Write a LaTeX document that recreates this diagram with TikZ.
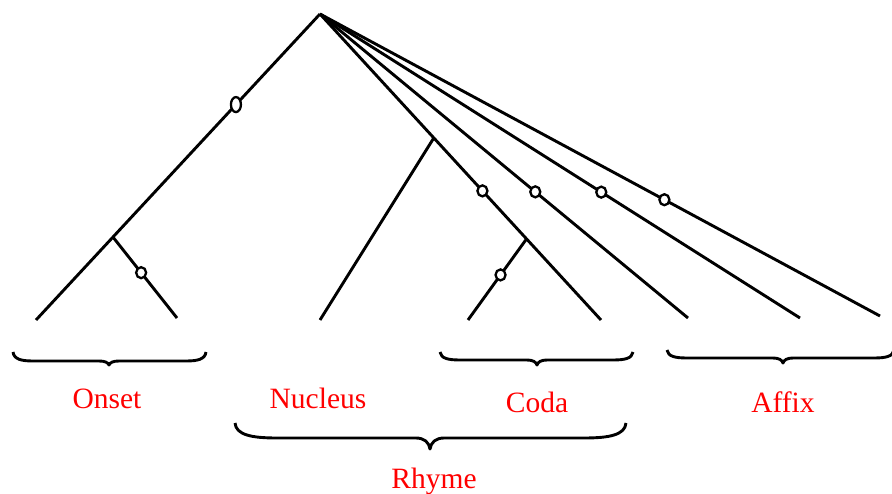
\documentclass[tikz,border=0pt]{standalone}
\usepackage{fontspec}
\setmainfont{Liberation Serif}
\usetikzlibrary{shapes.geometric}
% #1 left x, #2 right x, #3 top y, #4 tip x, #5 flat depth, #6 tip depth, #7 curl width, #8 tip half width
\newcommand\phbrace[8]{%
  \draw[brc] (#1,#3) .. controls (#1+1,#3+0.8*#5) and (#1+0.4*#7,#3+#5) .. (#1+#7,#3+#5)
    -- (#4-#8,#3+#5) .. controls (#4-0.4*#8,#3+#5) and (#4-1,#3+#5+0.4*#6) .. (#4,#3+#5+#6)
    .. controls (#4+1,#3+#5+0.4*#6) and (#4+0.4*#8,#3+#5) .. (#4+#8,#3+#5)
    -- (#2-#7,#3+#5) .. controls (#2-0.4*#7,#3+#5) and (#2-1,#3+0.8*#5) .. (#2,#3);}
\begin{document}
\begin{tikzpicture}[x=1pt,y=-1pt,
  br/.style={line width=2.9pt},
  ring/.style={ellipse, draw, line width=2.3pt, fill=white, minimum width=10pt, minimum height=11pt, inner sep=0pt},
  tallring/.style={ring, minimum width=10pt, minimum height=15pt},
  brc/.style={line width=2.9pt, line join=round},
  lbl/.style={text=red, font=\fontsize{29.5}{32}\selectfont, anchor=base, inner sep=0pt}]
\useasboundingbox (0,0) rectangle (892,494);
\fill[white] (0,0) rectangle (892,494);
% leaves and apex
\coordinate (top) at (320,14);
\coordinate (on1) at (36,320);
\coordinate (on2) at (177,318);
\coordinate (nu) at (320,320);
\coordinate (co1) at (468,320);
\coordinate (co2) at (601,320);
\coordinate (af1) at (688,318);
\coordinate (af2) at (800,318);
\coordinate (af3) at (880,316);
% branches
\draw[br] (top) -- coordinate[pos=0.729] (onb) (on1);
\draw[br] (top) -- coordinate[pos=0.405] (nub) coordinate[pos=0.735] (cob) (co2);
\draw[br] (onb) -- (on2);
\draw[br] (nub) -- (nu);
\draw[br] (cob) -- (co1);
\draw[br] (top) -- (af1);
\draw[br] (top) -- (af2);
\draw[br] (top) -- (af3);
% rings
\path (top) -- node[tallring, pos=0.296] (r1) {} (on1);
\path (onb) -- node[ring, pos=0.44] (r2) {} (on2);
\path (top) -- node[ring, pos=0.578] (r3) {} (co2);
\path (cob) -- node[ring, pos=0.444] (r4) {} (co1);
\path (top) -- node[ring, pos=0.585] (r5) {} (af1);
\path (top) -- node[ring, pos=0.586] (r6) {} (af2);
\path (top) -- node[ring, pos=0.615] (r7) {} (af3);
% braces
\phbrace{13}{206}{352}{109}{9}{4}{20}{10}
\phbrace{440}{633}{352}{537}{8}{5}{20}{10}
\phbrace{667}{894}{350}{783}{8}{5}{20}{10}
\phbrace{235}{626}{423}{430}{15}{11}{42}{14}
% labels
\node[lbl] (onset) at (107,408) {Onset};
\node[lbl] (nucleus) at (318,408) {Nucleus};
\node[lbl] (coda) at (537,412) {Coda};
\node[lbl] (affix) at (783,412) {Affix};
\node[lbl] (rhyme) at (434,488) {Rhyme};
\end{tikzpicture}
\end{document}
